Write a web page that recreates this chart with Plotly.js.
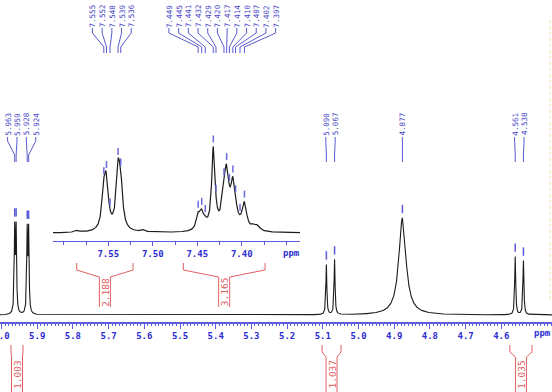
<!DOCTYPE html>
<html>
<head>
<meta charset="utf-8">
<script src="https://cdn.plot.ly/plotly-3.0.1.min.js"></script>
<style>html,body{margin:0;padding:0;background:#fff;}#chart{width:552px;height:392px;}</style>
</head>
<body>
<div id="chart"></div>
<script>
// ---------- data ----------
// main spectrum (6.0 - 4.46 ppm): picked peaks, heights, half widths
const mainPeakPpm    = [5.963, 5.959, 5.928, 5.924, 5.090, 5.067, 4.877, 4.561, 4.538];
const mainPeakHeight = [83, 83, 81, 81, 50, 55, 97, 58, 54];
const mainPeakWidth  = [0.0015, 0.0015, 0.0015, 0.0015, 0.0016, 0.0016, 0.012, 0.0016, 0.0016];
const mainLabelGroups = [[5.963, 5.959, 5.928, 5.924], [5.090, 5.067], [4.877], [4.561, 4.538]];

// inset (aromatic 7.61 - 7.33 ppm)
const insetPeakPpm    = [7.555, 7.552, 7.548, 7.539, 7.536, 7.449, 7.445, 7.441, 7.432, 7.429, 7.420, 7.417, 7.414, 7.410, 7.407, 7.402, 7.397];
const insetPeakHeight = [34, 43, 0.5, 55, 38, 14, 15, 5, 80, 2, 22.5, 47, 2, 40, 8, 1, 26];
const insetPeakWidth  = [0.0026, 0.0026, 0.0026, 0.0026, 0.0026, 0.0025, 0.0025, 0.0025, 0.0022, 0.003, 0.003, 0.003, 0.003, 0.003, 0.003, 0.003, 0.003];
const insetMinorPpm    = [7.585, 7.511, 7.387, 7.382];
const insetMinorHeight = [2, 2, 4, 5];
const insetMinorWidth  = [0.003, 0.003, 0.003, 0.003];
const insetLabelGroups = [[7.555, 7.552, 7.548, 7.539, 7.536],
                          [7.449, 7.445, 7.441, 7.432, 7.429, 7.420, 7.417, 7.414, 7.410, 7.407, 7.402, 7.397]];

// integrals
const mainIntegralValue = [1.003, 1.037, 1.035];
const mainIntegralFrom  = [5.9734, 5.102, 4.576];
const mainIntegralTo    = [5.9398, 5.049, 4.514];
const insetIntegralValue = [2.188, 3.165];
const insetIntegralFrom  = [7.5855, 7.4657];
const insetIntegralTo    = [7.5222, 7.3739];

// tick labels
const mainTickVals  = [6.0, 5.9, 5.8, 5.7, 5.6, 5.5, 5.4, 5.3, 5.2, 5.1, 5.0, 4.9, 4.8, 4.7, 4.6];
const mainTickText  = mainTickVals.map(v => v.toFixed(1));
const insetTickVals = [7.55, 7.50, 7.45, 7.40];
const insetTickText = insetTickVals.map(v => v.toFixed(2));

// ---------- helpers ----------
const MAIN_RANGE = [6.0042, 4.458];
const INSET_RANGE = [7.6121, 7.3346];
function lorentz(xs, P, H, W) {
  return xs.map(x => {
    let s = 0;
    for (let i = 0; i < P.length; i++) { const d = (x - P[i]) / W[i]; s += H[i] / (1 + d * d); }
    return s;
  });
}
function grid(a, b, step) { const out = []; for (let x = a; x <= b + 1e-9; x += step) out.push(+x.toFixed(5)); return out; }

const mainX = grid(MAIN_RANGE[1], MAIN_RANGE[0], 0.0002);
const mainY = lorentz(mainX, mainPeakPpm, mainPeakHeight, mainPeakWidth);
const insP = insetPeakPpm.concat(insetMinorPpm), insH = insetPeakHeight.concat(insetMinorHeight), insW = insetPeakWidth.concat(insetMinorWidth);
const insetX = grid(INSET_RANGE[1], INSET_RANGE[0], 0.0001);
const insetY = lorentz(insetX, insP, insH, insW);

const mainMarkY = lorentz(mainPeakPpm, mainPeakPpm, mainPeakHeight, mainPeakWidth).map(v => v + 9);
const insetMarkY = lorentz(insetPeakPpm, insP, insH, insW).map(v => v + 7.5);

const BLUE = '#4646c8', TICKBLUE = '#2c2cd2', AXBLUE = '#5c5ce0', RED = '#e06060';
const H = 392;
const py = p => 1 - p / H;   // page pixel row -> paper

const shapes = [], annotations = [];

function labelGroups(groups, xref, spacing, yLab, yTop, yK1, yK2, yBot) {
  groups.forEach(g => {
    const mean = g.reduce((a, b) => a + b, 0) / g.length;
    g.forEach((p, i) => {
      const lx = mean + ((g.length - 1) / 2 - i) * spacing;
      annotations.push({ x: lx, xref: xref, y: py(yLab), yref: 'paper', text: p.toFixed(3), textangle: -90,
        showarrow: false, xanchor: 'center', yanchor: 'middle',
        font: { family: 'DejaVu Sans Mono', size: 7.5, color: BLUE } });
      shapes.push({ type: 'path', xref: xref, yref: 'paper',
        path: `M${lx},${py(yTop)} L${lx},${py(yK1)} L${p},${py(yK2)} L${p},${py(yBot)}`,
        line: { color: '#5a5ad0', width: 1 } });
    });
  });
}
labelGroups(mainLabelGroups, 'x', 0.0263, 124, 137, 141, 155, 162);
labelGroups(insetLabelGroups, 'x2', 0.0109, 16, 28, 33, 47, 53);

function integrals(vals, from, to, xref, halfInner, yTop, yKnee, yDiag, yBot, yText) {
  vals.forEach((v, i) => {
    const c = (from[i] + to[i]) / 2;
    const iL = c + halfInner, iR = c - halfInner;
    shapes.push({ type: 'path', xref: xref, yref: 'paper',
      path: `M${from[i]},${py(yTop)} L${from[i]},${py(yKnee)} L${iL},${py(yDiag)} L${iL},${py(yBot)}`,
      line: { color: RED, width: 1 } });
    shapes.push({ type: 'path', xref: xref, yref: 'paper',
      path: `M${to[i]},${py(yTop)} L${to[i]},${py(yKnee)} L${iR},${py(yDiag)} L${iR},${py(yBot)}`,
      line: { color: RED, width: 1 } });
    annotations.push({ x: c, xref: xref, y: py(yText), yref: 'paper', text: v.toFixed(3), textangle: -90,
      showarrow: false, xanchor: 'center', yanchor: 'middle',
      font: { family: 'DejaVu Sans Mono', size: 9.5, color: RED } });
  });
}
integrals(mainIntegralValue, mainIntegralFrom, mainIntegralTo, 'x', 0.0154, 345, 352, 357, 392, 374);
integrals(insetIntegralValue, insetIntegralFrom, insetIntegralTo, 'x2', 0.0062, 263, 270, 277, 307, 292);

annotations.push({ x: 4.514, xref: 'x', y: py(333), yref: 'paper', text: 'ppm', showarrow: false,
  xanchor: 'left', yanchor: 'middle', font: { family: 'DejaVu Sans Mono', size: 9, color: TICKBLUE, weight: 'bold' } });
annotations.push({ x: 7.3436, xref: 'x2', y: py(253.5), yref: 'paper', text: 'ppm', showarrow: false,
  xanchor: 'center', yanchor: 'middle', font: { family: 'DejaVu Sans Mono', size: 9, color: TICKBLUE, weight: 'bold' } });

shapes.push({ type: 'line', xref: 'paper', yref: 'paper', x0: 550 / 552, x1: 550 / 552, y0: py(20), y1: py(300),
  line: { color: 'rgba(235,205,100,0.55)', width: 1, dash: 'dot' } });

const traces = [
  { x: mainX, y: mainY, xaxis: 'x', yaxis: 'y', mode: 'lines', line: { color: '#1c1c1c', width: 1.1 }, hoverinfo: 'skip' },
  { x: insetX, y: insetY, xaxis: 'x2', yaxis: 'y2', mode: 'lines', line: { color: '#1c1c1c', width: 1.2 }, hoverinfo: 'skip' },
  { x: mainPeakPpm, y: mainMarkY, xaxis: 'x', yaxis: 'y', mode: 'markers',
    marker: { symbol: 'line-ns', size: 6, line: { color: '#5a5ad8', width: 1.5 } }, hoverinfo: 'skip' },
  { x: insetPeakPpm, y: insetMarkY, xaxis: 'x2', yaxis: 'y2', mode: 'markers',
    marker: { symbol: 'line-ns', size: 5, line: { color: '#6a6ae0', width: 1.5 } }, hoverinfo: 'skip' }
];

const tickFont = { family: 'DejaVu Sans Mono', size: 9, color: TICKBLUE, weight: 'bold' };
const layout = {
  width: 552, height: 392, margin: { l: 0, r: 0, t: 0, b: 0, pad: 0 },
  paper_bgcolor: '#fff', plot_bgcolor: 'rgba(0,0,0,0)', showlegend: false,
  xaxis: { domain: [0, 1], range: MAIN_RANGE, anchor: 'y', showgrid: false, zeroline: false,
    showline: true, linecolor: AXBLUE, linewidth: 1.5, ticks: 'outside', ticklen: 5, tickwidth: 1, tickcolor: AXBLUE,
    tickmode: 'array', tickvals: mainTickVals, ticktext: mainTickText, tickfont: tickFont, ticklabeloverflow: 'allow',
    minor: { dtick: 0.01, tick0: 0, ticks: 'outside', ticklen: 2.5, tickwidth: 1, tickcolor: AXBLUE, showgrid: false } },
  yaxis: { domain: [py(322), 1], range: [-7, 315], visible: false, fixedrange: true },
  xaxis2: { domain: [53 / 552, 300 / 552], range: INSET_RANGE, anchor: 'y2', showgrid: false, zeroline: false,
    showline: true, linecolor: AXBLUE, linewidth: 1, ticks: 'outside', ticklen: 4, tickwidth: 1, tickcolor: AXBLUE,
    tickmode: 'array', tickvals: insetTickVals, ticktext: insetTickText, tickfont: tickFont,
    minor: { dtick: 0.025, tick0: 0, ticks: 'outside', ticklen: 3, tickwidth: 1, tickcolor: AXBLUE, showgrid: false } },
  yaxis2: { domain: [py(241), py(121)], range: [-8, 112], visible: false, fixedrange: true },
  shapes: shapes, annotations: annotations
};
Plotly.newPlot('chart', traces, layout, { displayModeBar: false, staticPlot: true });
</script>
</body>
</html>
